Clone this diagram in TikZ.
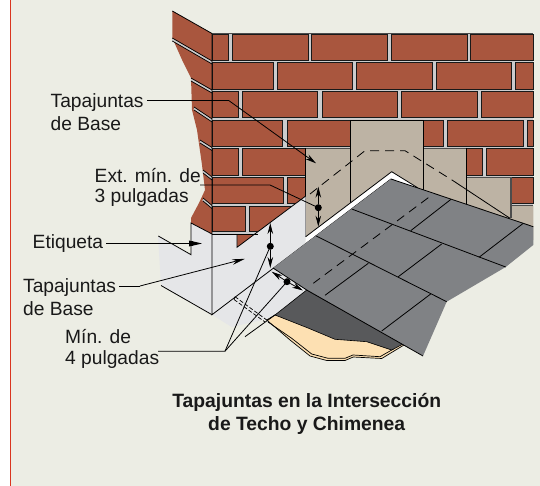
\documentclass[tikz,border=0pt]{standalone}
\usepackage{fontspec}
\setmainfont{Liberation Sans}
\usetikzlibrary{arrows.meta}
\definecolor{bgc}{HTML}{ECEDE4}
\definecolor{brickc}{HTML}{A9563E}
\definecolor{mortar}{HTML}{CBCCCD}
\definecolor{tanc}{HTML}{BDB3A4}
\definecolor{flash}{HTML}{E5E6E8}
\definecolor{shing}{HTML}{808285}
\definecolor{darku}{HTML}{58595B}
\definecolor{felt}{HTML}{FDE0B2}
\definecolor{redl}{HTML}{D9351F}
\tikzset{
 brk/.style={fill=brickc,draw=black!90,line width=.8pt},
 lab/.style={font=\fontsize{19.2}{23}\selectfont,align=left,inner sep=0pt,anchor=north west,text=black!90},
 labs/.style={font=\fontsize{19.2}{20.7}\selectfont,align=left,inner sep=0pt,anchor=north west,text=black!90},
 ttl/.style={font=\fontsize{19.3}{23}\selectfont\bfseries,align=center,inner sep=0pt,anchor=north,text=black!90},
 lead/.style={draw=black,line width=.8pt},
 arr/.style={draw=black,line width=.8pt,-{Stealth[length=11pt,width=5.5pt]}},
 dotn/.style={circle,fill=black,inner sep=0pt,minimum size=7pt},
 thin1/.style={draw=black,line width=.8pt},
 dsh/.style={draw=black,line width=.8pt,dash pattern=on 9pt off 6pt},
}
\newcommand{\brk}[4]{\path[brk] (#1,#2) rectangle (#3,#4);}
\begin{document}
\begin{tikzpicture}[x=1pt,y=-1pt]
\useasboundingbox (0,0) rectangle (540,486);
\fill[white] (0,0) rectangle (540,486);
\fill[bgc] (10,0) rectangle (540,486);
\draw[redl,line width=1.6pt] (10.5,0) -- (10.5,486);
% left face of the chimney
\fill[brickc] (172.3,11) -- (212,33.5) -- (212,235) -- (191,223) -- (191,218) -- (199,203) -- (205,190) -- (202,165) -- (197,130) -- (192,110) -- (191,78) -- (183,62) -- (172.3,38) -- cycle;
\draw[line width=.8pt] (172.3,11) -- (212,33.5);
\foreach \a/\b/\c in {172.3/38/61,191/78/90,194/107/119,200/140/147.5,203/170/177,203/198/205.5}{
  \draw[mortar,line width=2.2pt] (\a,\b+1.5) -- (212,\c+1.5);
  \draw[black,line width=.7pt] (\a,\b) -- (212,\c);
  \draw[black,line width=.7pt] (\a,\b+3) -- (212,\c+3);
}
% front wall
\fill[mortar] (212,33.5) rectangle (533.3,234);
\draw[black!70,line width=.8pt] (212,33.5) -- (533.3,33.5);
\brk{212}{34}{228.5}{60.5}\brk{232}{34}{308}{60.5}\brk{311.5}{34}{387}{60.5}\brk{391.5}{34}{467}{60.5}\brk{470.5}{34}{533.3}{60.5}
\brk{212}{62.5}{273.5}{89}\brk{277.5}{62.5}{352.7}{89}\brk{356.7}{62.5}{432.7}{89}\brk{436}{62.5}{511.7}{89}\brk{515.5}{62.5}{533.3}{89}
\brk{212}{91.5}{238.5}{117.5}\brk{242.5}{91.5}{317.7}{117.5}\brk{322}{91.5}{397.7}{117.5}\brk{401.7}{91.5}{477}{117.5}\brk{481}{91.5}{533.3}{117.5}
\brk{212}{120}{282.7}{146.5}\brk{287}{120}{360}{146.5}\brk{415}{120}{443}{146.5}\brk{447.5}{120}{523}{146.5}\brk{527}{120}{533.3}{146.5}
\brk{212}{148.5}{238.5}{175}\brk{242.5}{148.5}{315}{175}\brk{460}{148.5}{482.7}{175}\brk{486.5}{148.5}{533.3}{175}
\brk{212}{177.5}{283}{203.5}\brk{287.5}{177.5}{315}{203.5}\brk{505}{177.5}{533.3}{203.5}
\brk{212}{206.5}{245.5}{231.5}\brk{249.5}{206.5}{315}{231.5}
\fill[brickc] (237,235) -- (258,235) -- (237,248) -- cycle;
% tan flashing
\path[fill=tanc] (305.7,148) -- (350,148) -- (350,120) -- (423,120) -- (423,148) -- (466.7,148) -- (466.7,177) -- (511,177) -- (511,206) -- (533.3,206) -- (533.3,240) -- (305.7,240) -- cycle;
\draw[black,line width=.8pt] (350,148) -- (350,120) -- (423,120) -- (423,148);
\draw[black!70,line width=.8pt] (305.7,148) -- (350,148) (423,148) -- (466.7,148);
\draw[black!70,line width=.8pt] (466.7,177) -- (511,177);
\draw[black!70,line width=1.4pt] (511,177) -- (511,218);
\draw[black!70,line width=1pt] (511,206) -- (533.3,206);
\draw[black,line width=.8pt] (305.7,148) -- (305.7,236.7) (350,148) -- (350,204) (423,148) -- (423,190) (466.7,148) -- (466.7,205);
% hidden line in tan
\draw[dsh] (310,194) -- (365,150.7) -- (405,150.7) -- (452,180);
\draw[thin1] (452,180) -- (510,218.3);
% light base flashing
\path[fill=flash] (158,236) -- (191,254.7) -- (191,223) -- (212,234) -- (237,234) -- (237,247.3) -- (305.7,196) -- (305.7,243.3) -- (273,268) -- (306.7,290) -- (275,315) -- (266.7,319) -- (231.7,327) -- (212,314.7) -- (161,285) -- cycle;
\fill[white] (305.7,236.7) -- (391.7,171.7) -- (418,188) -- (391,179) -- (305.7,243.3) -- cycle;
\draw[black,line width=.8pt] (158.3,236) -- (191,254.7) -- (191,223) -- (212,234);
\draw[black,line width=.8pt] (237,234) -- (237,247.3) -- (305.7,196);
\draw[black,line width=.8pt] (212,234) -- (258,234);
\draw[black,line width=.8pt] (161,285.5) -- (212,314.7);
\draw[black,line width=.8pt] (305.7,236.7) -- (391.7,171.7) -- (418,188);
\draw[black,line width=.8pt] (212,33.5) -- (212,314.7) -- (391,179);
% felt and underlayment
\path[fill=felt,draw=black,line width=.7pt] (266.7,320) -- (290,340) -- (310,356) -- (326.7,360.5) -- (345,360.5) -- (353.3,357) -- (381.7,358.5) -- (404,345) -- (395,335) -- (275,315) -- cycle;
\draw[black,line width=.7pt] (268,322) -- (291.7,338.3) -- (311.7,354) -- (328,358.3) -- (345,358.3) -- (353,355) -- (380,356.7) -- (391.7,350) -- (401,344);
\fill[felt] (272,318) -- (293,337) -- (312,352.5) -- (329,357) -- (345,357) -- (353,353.5) -- (380,355) -- (392,349) -- (380,330) -- cycle;
\path[fill=darku,draw=black,line width=.6pt] (306.7,290) -- (275,315) -- (308,328) -- (335,339.3) -- (366.7,341.7) -- (391.7,350) -- (403,344) -- cycle;
% shingles
\path[fill=shing] (391,179) -- (533.3,226.7) -- (533.3,245) -- (505.7,267) -- (446.7,301.7) -- (423,356) -- (306.7,290) -- (273,268) -- cycle;
\draw[black,line width=.8pt] (391,179) -- (533.3,226.7);
\draw[black,line width=.8pt] (273,268) -- (306.7,290) -- (423,356);
\draw[black,line width=.8pt] (351.7,209) -- (505.7,267);
\draw[black,line width=.8pt] (315.7,235.7) -- (446.7,301.7);
\draw[black,line width=.8pt] (451,199.3) -- (410.7,230.7) (523.3,223.3) -- (479,257.3) (441.7,244) -- (398.3,276.7) (368.3,263.3) -- (325,295.3) (430.7,294) -- (381.7,331);
\draw[dsh] (428.3,197.7) -- (313.3,283.3);
% hidden lines low
\draw[black,line width=.7pt,dash pattern=on 4pt off 2pt] (235,296.7) -- (266.7,320);
\draw[black,line width=.7pt,dash pattern=on 4pt off 2pt] (234,299.5) -- (265,322);
\draw[black,line width=.7pt] (235,296.7) -- (234,299.5);
\draw[black,line width=.8pt] (245,336.7) -- (275,315);
% labels
\node[lab] (t1) at (50.5,92.9) {Tapajuntas\\de Base};
\node[labs] (t2) at (94.5,167.7) {Ext. mín. de\\3 pulgadas};
\node[lab] (t3) at (32.5,233.9) {Etiqueta};
\node[lab] (t4) at (23,278.5) {Tapajuntas\\de Base};
\node[labs] (t5) at (65,329.1) {Mín. de\\4 pulgadas};
\node[ttl] (t6) at (306.7,392.8) {Tapajuntas en la Intersección\\de Techo y Chimenea};
% leaders and dimension marks
\coordinate (a1s) at (147.3,100.7); \coordinate (a1k) at (229,100.7); \coordinate (a1e) at (316,163.3);
\draw[lead] (a1s) -- (a1k);
\draw[arr] (a1k) -- (a1e);
\node[dotn] (d3) at (318.3,207.7) {};
\node[dotn] (d1) at (270.3,246.3) {};
\node[dotn] (d2) at (287,281.7) {};
\coordinate (a2s) at (200,185); \coordinate (a2k) at (270,185);
\draw[lead] (a2s) -- (a2k) -- (d3.center);
\coordinate (a3s) at (106,243.5); \coordinate (a3e) at (202,243.5);
\draw[lead,-{Stealth[length=13pt,width=6pt]}] (a3s) -- (a3e);
\fill (189,241) rectangle (193,246);
\coordinate (a4s) at (119,286); \coordinate (a4k) at (140,286); \coordinate (a4e) at (245,258.8);
\draw[lead] (a4s) -- (a4k);
\draw[arr,-{Stealth[length=13pt,width=5.5pt]}] (a4k) -- (a4e);
\coordinate (d1u) at (270.3,223); \coordinate (d1d) at (270.3,268);
\draw[arr] (d1) -- (d1u); \draw[arr] (d1) -- (d1d);
\coordinate (d2u) at (271.7,271.7); \coordinate (d2d) at (303,290.5);
\draw[arr] (d2) -- (d2u); \draw[arr] (d2) -- (d2d);
\coordinate (d3u) at (318.3,186.7); \coordinate (d3d) at (318.3,226.7);
\draw[arr] (d3) -- (d3u); \draw[arr] (d3) -- (d3d);
\coordinate (a5s) at (158,351.2); \coordinate (a5k) at (225,351.2);
\draw[lead] (a5s) -- (a5k) -- (d1.center);
\draw[lead] (a5k) -- (d2.center);
\end{tikzpicture}
\end{document}
